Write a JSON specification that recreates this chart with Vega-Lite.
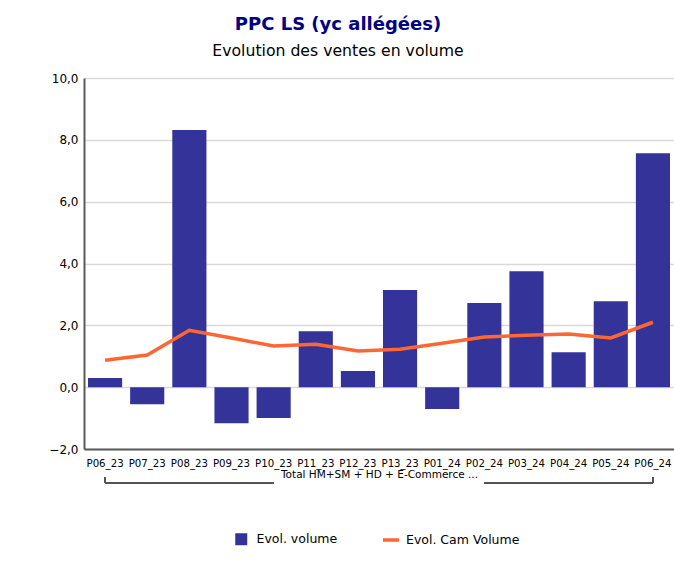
{
  "$schema": "https://vega.github.io/schema/vega-lite/v6.json",
  "autosize": "none",
  "width": 590,
  "height": 371,
  "padding": {"left": 84, "top": 78, "right": 0, "bottom": 116},
  "background": "white",
  "title": {
    "text": "PPC LS (yc allégées)",
    "subtitle": "Evolution des ventes en volume",
    "anchor": "middle",
    "dx": -41,
    "offset": 13,
    "font": "DejaVu Sans",
    "fontSize": 18,
    "fontWeight": "bold",
    "color": "#000080",
    "subtitleFont": "DejaVu Sans",
    "subtitleFontSize": 15.7,
    "subtitleColor": "#000000",
    "subtitlePadding": 10
  },
  "data": {
    "values": [
      {"periode": "P06_23", "volume": 0.30, "cam": 0.87},
      {"periode": "P07_23", "volume": -0.55, "cam": 1.04},
      {"periode": "P08_23", "volume": 8.32, "cam": 1.84},
      {"periode": "P09_23", "volume": -1.17, "cam": 1.59},
      {"periode": "P10_23", "volume": -1.00, "cam": 1.33},
      {"periode": "P11_23", "volume": 1.81, "cam": 1.39},
      {"periode": "P12_23", "volume": 0.52, "cam": 1.17},
      {"periode": "P13_23", "volume": 3.14, "cam": 1.23},
      {"periode": "P01_24", "volume": -0.71, "cam": 1.42},
      {"periode": "P02_24", "volume": 2.72, "cam": 1.62},
      {"periode": "P03_24", "volume": 3.75, "cam": 1.68},
      {"periode": "P04_24", "volume": 1.13, "cam": 1.72},
      {"periode": "P05_24", "volume": 2.78, "cam": 1.59},
      {"periode": "P06_24", "volume": 7.57, "cam": 2.10}
    ]
  },
  "encoding": {
    "x": {
      "field": "periode",
      "type": "nominal",
      "sort": null,
      "scale": {"paddingInner": 0.19, "paddingOuter": 0.095},
      "axis": {
        "title": "Total HM+SM + HD + E-Commerce ...",
        "titleFont": "DejaVu Sans",
        "titleFontSize": 10.5,
        "titleFontWeight": "normal",
        "titleColor": "#000000",
        "titlePadding": 1,
        "labelAngle": 0,
        "labelFont": "DejaVu Sans",
        "labelFontSize": 10.2,
        "labelColor": "#000000",
        "labelPadding": 9,
        "labelOverlap": false,
        "ticks": false,
        "domainColor": "#5a5a5a",
        "domainWidth": 2,
        "grid": false
      }
    }
  },
  "layer": [
    {
      "mark": {"type": "bar"},
      "encoding": {
        "y": {
          "field": "volume",
          "type": "quantitative",
          "scale": {"domain": [-2, 10], "nice": false, "zero": false},
          "axis": {
            "title": null,
            "values": [-2, 0, 2, 4, 6, 8, 10],
            "labelExpr": "replace(format(datum.value, '.1f'), '.', ',')",
            "labelFont": "DejaVu Sans",
            "labelFontSize": 12,
            "labelColor": "#000000",
            "labelPadding": 6,
            "ticks": false,
            "domainColor": "#5a5a5a",
            "domainWidth": 2,
            "gridColor": "#d9d9d9",
            "gridWidth": 1.5
          }
        },
        "fill": {
          "datum": "Evol. volume",
          "type": "nominal",
          "scale": {"range": ["#333399"]},
          "legend": {
            "title": null,
            "orient": "none",
            "legendX": 151,
            "legendY": 455,
            "padding": 0,
            "symbolType": "square",
            "symbolSize": 144,
            "symbolStrokeWidth": 0,
            "labelOffset": 9,
            "labelFont": "DejaVu Sans",
            "labelFontSize": 12.5,
            "labelColor": "#000000"
          }
        }
      }
    },
    {
      "mark": {"type": "line", "strokeWidth": 3.5},
      "encoding": {
        "y": {"field": "cam", "type": "quantitative"},
        "stroke": {
          "datum": "Evol. Cam Volume",
          "type": "nominal",
          "scale": {"range": ["#ff6633"]},
          "legend": {
            "title": null,
            "orient": "none",
            "legendX": 297,
            "legendY": 452,
            "padding": 0,
            "symbolType": "stroke",
            "symbolSize": 256,
            "symbolStrokeWidth": 3.5,
            "labelOffset": 5,
            "labelFont": "DejaVu Sans",
            "labelFontSize": 12.5,
            "labelColor": "#000000"
          }
        }
      }
    },
    {
      "mark": {"type": "rule", "color": "#555555", "strokeWidth": 1},
      "encoding": {
        "x": {"datum": "P06_23"},
        "x2": {"datum": "P10_23"},
        "y": {"datum": -3.1}
      }
    },
    {
      "mark": {"type": "rule", "color": "#555555", "strokeWidth": 1},
      "encoding": {
        "x": {"datum": "P02_24"},
        "x2": {"datum": "P06_24"},
        "y": {"datum": -3.1}
      }
    },
    {
      "mark": {"type": "rule", "color": "#555555", "strokeWidth": 1},
      "encoding": {
        "x": {"datum": "P06_23"},
        "y": {"datum": -3.1},
        "y2": {"datum": -2.92}
      }
    },
    {
      "mark": {"type": "rule", "color": "#555555", "strokeWidth": 1},
      "encoding": {
        "x": {"datum": "P06_24"},
        "y": {"datum": -3.1},
        "y2": {"datum": -2.92}
      }
    }
  ],
  "config": {
    "view": {"stroke": null},
    "font": "DejaVu Sans"
  }
}
